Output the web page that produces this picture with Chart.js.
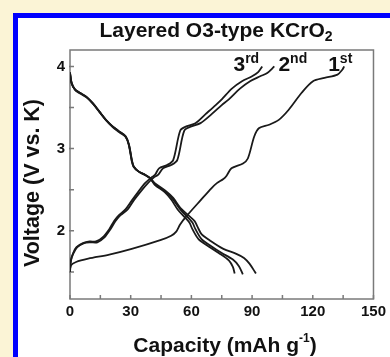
<!DOCTYPE html>
<html>
<head>
<meta charset="utf-8">
<title>Layered O3-type KCrO2</title>
<script src="https://cdn.jsdelivr.net/npm/chart.js@4.4.0/dist/chart.umd.min.js"></script>
<style>
  html, body { margin: 0; padding: 0; background: #fbf4d6; }
  #wrap { position: relative; width: 390px; height: 357px; }
</style>
</head>
<body>
<div id="wrap"><canvas id="chart" width="390" height="357"></canvas></div>
<script>
// capacity (mAh/g), voltage (V vs. K)
const charge1 = [[0, 1.5], [0.5, 1.58], [3, 1.62], [9, 1.66], [19.4, 1.71], [30.5, 1.78], [45, 1.89], [50, 1.94], [52.5, 1.99],
  [54.5, 2.08], [58, 2.19], [64.5, 2.37], [70, 2.52], [72.6, 2.58], [75.8, 2.63], [77.4, 2.67], [79.8, 2.76], [85.5, 2.82],
  [87.9, 2.88], [91.1, 3.15], [93.5, 3.25], [98.4, 3.29], [103.2, 3.35], [108, 3.47], [114.5, 3.68], [120.1, 3.82],
  [125.8, 3.86], [132.2, 3.9], [134.6, 3.96], [135.5, 4.0]];
const charge2 = [[0, 1.52], [0.5, 1.64], [1.8, 1.73], [3.5, 1.8], [7, 1.85], [10, 1.86], [13.5, 1.86], [17, 1.92], [20, 2.02],
  [22.5, 2.12], [25, 2.19], [28.5, 2.26], [31.5, 2.37], [35, 2.48], [38.5, 2.58], [41.5, 2.65], [43.5, 2.68], [46, 2.76],
  [50, 2.8], [53, 2.86], [56.5, 3.22], [60, 3.27], [64.5, 3.31], [70, 3.42], [75, 3.53], [78.5, 3.6], [84, 3.73],
  [89, 3.82], [94, 3.88], [97.5, 3.92], [101, 4.0]];
const charge3 = [[0, 1.52], [0.5, 1.65], [1.6, 1.73], [3.2, 1.8], [6.4, 1.85], [9.7, 1.87], [12.9, 1.87], [16.1, 1.92],
  [19.4, 2.02], [21.8, 2.12], [24.2, 2.19], [27.4, 2.26], [30.6, 2.37], [33.9, 2.48], [37.1, 2.58], [40.3, 2.65],
  [42, 2.68], [44, 2.76], [48, 2.8], [51, 2.86], [54.5, 3.22], [57.5, 3.27], [62, 3.31], [67, 3.42], [72, 3.53],
  [75, 3.6], [80, 3.73], [85, 3.82], [90, 3.88], [93, 3.93], [95, 4.0]];
const discharge1 = [[0, 3.93], [0.8, 3.8], [2.6, 3.71], [5, 3.67], [8.3, 3.62], [11.5, 3.54], [14.7, 3.44], [18, 3.34],
  [21.2, 3.26], [24.4, 3.2], [27.6, 3.14], [29.2, 3.04], [30.7, 2.85], [31.6, 2.78], [34.1, 2.72], [37.3, 2.68],
  [39.7, 2.64], [41.9, 2.58], [47, 2.49], [51, 2.4], [54.5, 2.28], [58, 2.2], [61.5, 2.12], [63, 2.05], [65, 1.96],
  [69.3, 1.88], [75.8, 1.78], [82.2, 1.72], [86, 1.67], [88.7, 1.6], [91.9, 1.48]];
const discharge2 = [[0, 3.92], [0.8, 3.79], [2.5, 3.72], [4.9, 3.68], [8.2, 3.63], [11.4, 3.55], [14.6, 3.45], [17.8, 3.35],
  [21.1, 3.27], [24.3, 3.21], [27.5, 3.15], [29.1, 3.05], [30.6, 2.85], [31.5, 2.78], [34, 2.72], [37.2, 2.68],
  [39.6, 2.64], [41.9, 2.57], [47.5, 2.47], [51, 2.38], [54.5, 2.26], [58, 2.17], [60.5, 2.1], [62, 2.02], [65, 1.9],
  [70, 1.81], [75, 1.73], [80.5, 1.65], [83.5, 1.57], [85.4, 1.47]];
const discharge3 = [[0, 3.92], [0.8, 3.8], [2.4, 3.72], [4.8, 3.68], [8.1, 3.63], [11.3, 3.55], [14.5, 3.45], [17.7, 3.35],
  [21, 3.27], [24.2, 3.21], [27.4, 3.15], [29, 3.05], [30.5, 2.85], [31.4, 2.78], [33.9, 2.72], [37.1, 2.68],
  [39.5, 2.64], [41.9, 2.56], [46.8, 2.47], [50, 2.38], [53.2, 2.26], [56.5, 2.17], [59, 2.1], [60.5, 2.02],
  [63.5, 1.9], [68.5, 1.81], [73.5, 1.73], [78.5, 1.64], [80.5, 1.56], [81.4, 1.48]];

const xTicks = [0, 30, 60, 90, 120, 150];
const xMinorTicks = [15, 45, 75, 105, 135];
const yTicks = [2, 3, 4];
const yMinorTicks = [1.5, 2.5, 3.5];

const cycleNames = ["3", "2", "1"];
const cycleSuffixes = ["rd", "nd", "st"];

// where the cycle labels sit, in data units
const cycleLabelSpots = [[80.8, 3.94], [103, 3.94], [127.6, 3.94]];

const FONT = "'Liberation Sans', Arial, sans-serif";

function drawRich(ctx, parts, x, y, align) {
  let total = 0;
  parts.forEach(p => {
    ctx.font = "bold " + p.size + "px " + FONT;
    p.w = ctx.measureText(p.t).width;
    total += p.w;
  });
  let cx = align === "center" ? x - total / 2 : x;
  ctx.textBaseline = "alphabetic";
  ctx.textAlign = "left";
  parts.forEach(p => {
    ctx.font = "bold " + p.size + "px " + FONT;
    ctx.fillText(p.t, cx, y + (p.dy || 0));
    cx += p.w;
  });
}

const decor = {
  id: "decor",
  beforeDraw(chart) {
    const ctx = chart.ctx;
    ctx.save();
    ctx.fillStyle = "#fbf4d6";
    ctx.fillRect(0, 0, chart.width, chart.height);
    ctx.fillStyle = "#0000fe";
    ctx.fillRect(13, 13, chart.width - 13, chart.height - 13);
    ctx.fillStyle = "#ffffff";
    ctx.fillRect(18, 18, chart.width - 18, chart.height - 18);
    ctx.restore();
  },
  beforeDatasetsDraw(chart) {
    const { ctx, chartArea: a, scales } = chart;
    ctx.save();
    ctx.strokeStyle = "#7a7a7a";
    ctx.lineWidth = 1.5;
    ctx.strokeRect(a.left, a.top, a.right - a.left, a.bottom - a.top);
    ctx.beginPath();
    xTicks.concat(xMinorTicks).forEach(v => {
      const px = scales.x.getPixelForValue(v);
      ctx.moveTo(px, a.bottom);
      ctx.lineTo(px, a.bottom - 4);
    });
    yTicks.concat(yMinorTicks).forEach(v => {
      const py = scales.y.getPixelForValue(v);
      ctx.moveTo(a.left - 1, py);
      ctx.lineTo(a.left + 4, py);
    });
    ctx.stroke();
    ctx.restore();
  },
  afterDraw(chart) {
    const { ctx, scales } = chart;
    ctx.save();
    ctx.fillStyle = "#111";
    drawRich(ctx, [{ t: "Layered O3-type KCrO", size: 21 }, { t: "2", size: 14, dy: 4 }], 216, 37, "center");
    drawRich(ctx, [{ t: "Capacity (mAh g", size: 21 }, { t: "-1", size: 12, dy: -10 }, { t: ")", size: 21 }], 225, 352, "center");
    ctx.save();
    ctx.translate(39, 183);
    ctx.rotate(-Math.PI / 2);
    drawRich(ctx, [{ t: "Voltage (V vs. K)", size: 21.5 }], 0, 0, "center");
    ctx.restore();
    cycleNames.forEach((n, i) => {
      const px = scales.x.getPixelForValue(cycleLabelSpots[i][0]);
      const py = scales.y.getPixelForValue(cycleLabelSpots[i][1]);
      drawRich(ctx, [{ t: n, size: 21 }, { t: cycleSuffixes[i], size: 14, dy: -8 }], px, py, "left");
    });
    ctx.restore();
  }
};

const toPoints = arr => arr.map(([x, y]) => ({ x, y }));
const curves = [charge1, charge2, charge3, discharge1, discharge2, discharge3];

new Chart(document.getElementById("chart"), {
  type: "scatter",
  data: {
    datasets: curves.map(c => ({
      data: toPoints(c),
      showLine: true,
      borderColor: "#1a1a1a",
      borderWidth: 1.8,
      pointRadius: 0,
      tension: 0.3,
      fill: false
    }))
  },
  options: {
    responsive: false,
    animation: false,
    devicePixelRatio: 1,
    layout: { padding: { top: 50, right: 10, left: 0, bottom: 0 } },
    plugins: { legend: { display: false }, tooltip: { enabled: false } },
    scales: {
      x: {
        type: "linear",
        min: 0,
        max: 150,
        afterBuildTicks: s => { s.ticks = xTicks.map(v => ({ value: v })); },
        afterFit: s => { s.height = 58; },
        grid: { display: false, drawTicks: false },
        border: { display: false },
        ticks: { color: "#111", font: { family: FONT, size: 15, weight: "bold" }, padding: 4, maxRotation: 0 }
      },
      y: {
        type: "linear",
        min: 1.17,
        max: 4.2,
        afterBuildTicks: s => { s.ticks = yTicks.map(v => ({ value: v })); },
        afterFit: s => { s.width = 70; },
        grid: { display: false, drawTicks: false },
        border: { display: false },
        ticks: { color: "#111", font: { family: FONT, size: 15, weight: "bold" }, padding: 5 }
      }
    }
  },
  plugins: [decor]
});
</script>
</body>
</html>
